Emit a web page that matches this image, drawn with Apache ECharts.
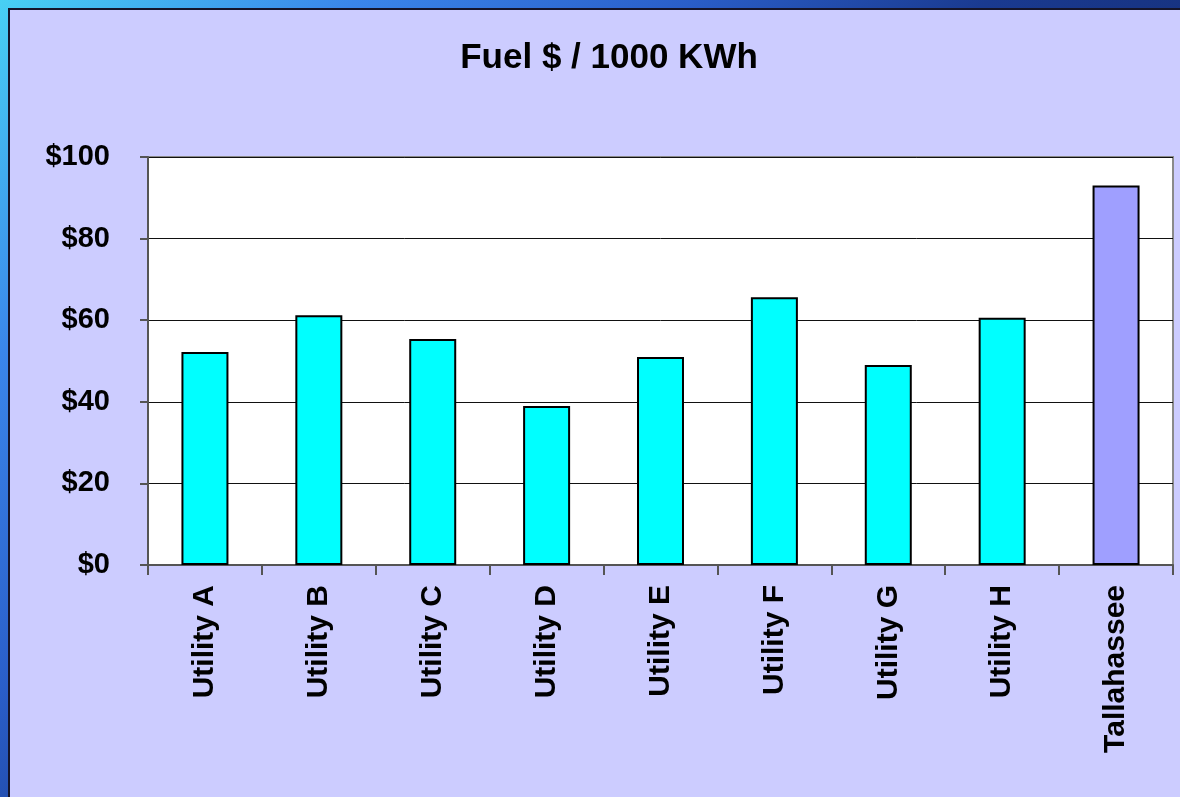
<!DOCTYPE html>
<html>
<head>
<meta charset="utf-8">
<script src="https://cdn.jsdelivr.net/npm/echarts@6/dist/echarts.min.js"></script>
<style>
	html, body { margin: 0; padding: 0; width: 1180px; height: 797px; overflow: hidden; }
	body { background: linear-gradient(135deg, #48d0f4 0%, #3a86ea 18%, #2a5ec8 35%, #1a3a90 50%, #0d1a4c 100%); }
	#chart { position: absolute; left: 8px; top: 8px; width: 1172px; height: 789px;
		border-left: 2px solid #14142a; border-top: 2px solid #14142a; }
</style>
</head>
<body>
<div id="chart"></div>
<script>
	var categories = [ "Utility A", "Utility B", "Utility C", "Utility D", "Utility E",
		"Utility F", "Utility G", "Utility H", "Tallahassee" ];
	var fuelCost = [ 52.2, 61.2, 55.4, 39, 51, 65.6, 49, 60.6, 93 ];
	var yTicks = [ 0, 20, 40, 60, 80, 100 ];

	var chart = echarts.init(document.getElementById("chart"));
	var font = "'Liberation Sans', Arial, sans-serif";

	// last category (the home utility) gets its own colour
	var bars = [];
	for (var i = 0; i < fuelCost.length; i++) {
		bars.push({
			value : fuelCost[i],
			itemStyle : {
				color : categories[i] === "Tallahassee" ? "#9f9fff" : "#00ffff"
			}
		});
	}

	chart.setOption({
		backgroundColor : "#ccccff",
		animation : false,
		title : {
			text : "Fuel $ / 1000 KWh",
			left : 594,
			textAlign : "center",
			top : 26,
			textStyle : { fontFamily : font, fontWeight : "bold", fontSize : 35, color : "#000" }
		},
		grid : {
			left : 138, top : 147, width : 1025, height : 408,
			show : true, backgroundColor : "#fff", borderColor : "#8a8a8a", borderWidth : 2
		},
		xAxis : {
			type : "category",
			data : categories,
			axisLine : { lineStyle : { color : "#555", width : 2 } },
			axisTick : { show : true, length : 10, lineStyle : { color : "#555", width : 2 } },
			axisLabel : {
				rotate : 90, margin : 20, interval : 0,
				fontFamily : font, fontWeight : "bold", fontSize : 30, color : "#000"
			}
		},
		yAxis : {
			type : "value",
			min : yTicks[0],
			max : yTicks[yTicks.length - 1],
			interval : 20,
			axisLine : { show : true, lineStyle : { color : "#555", width : 2 } },
			axisTick : { show : true, length : 8, lineStyle : { color : "#555", width : 2 } },
			axisLabel : {
				margin : 38,
				fontFamily : font, fontWeight : "bold", fontSize : 29, color : "#000",
				formatter : function(v) { return "$" + v; }
			},
			splitLine : { lineStyle : { color : "#111", width : 1 } }
		},
		series : [ {
			type : "bar",
			data : bars,
			barWidth : 47,
			itemStyle : { borderColor : "#000", borderWidth : 2 }
		} ]
	});
</script>
</body>
</html>
